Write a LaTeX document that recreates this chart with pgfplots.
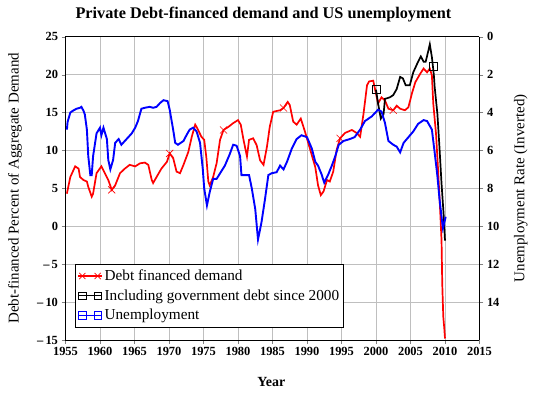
\documentclass[border=0pt]{standalone}
\usepackage{fontspec}
\setmainfont{Liberation Serif}
\usepackage{pgfplots}
\pgfplotsset{compat=1.18}
\begin{document}
\begin{tikzpicture}
\useasboundingbox (-65.5bp,-54bp) rectangle (475.5bp,340bp);
\begin{axis}[
  at={(0,0)}, anchor=south west,
  scale only axis, width=414bp, height=303.3bp,
  xmin=1955, xmax=2015, ymin=-15, ymax=25,
  xtick={1955,1960,...,2015}, ytick={-15,-10,...,25},
  yticklabels={\textendash\,15,\textendash\,10,\textendash\,5,0,5,10,15,20,25},
  axis y line*=left,
  tick pos=left, tick align=outside,
  major tick length=4bp,
  grid=major, major grid style={color=black!25, line width=0.9bp},
  axis line style={line width=1bp},
  /pgf/number format/assume math mode=true,
  /pgf/number format/1000 sep={},
  ticklabel style={font=\fontsize{12.5}{14}\selectfont\bfseries},
  title={Private Debt-financed demand and US unemployment},
  title style={at={(axis description cs:0.478,1.0419)}, anchor=base, font=\fontsize{16.3}{19}\selectfont\bfseries},
  xlabel={Year},
  xlabel style={at={(axis description cs:0.497,-0.1517)}, anchor=base, font=\fontsize{14}{16}\selectfont\bfseries},
  ylabel={Debt-financed Percent of Aggregate Demand},
  ylabel style={at={(axis description cs:-0.122,0.5)}, anchor=center, font=\fontsize{15}{17}\selectfont},
  legend style={at={(axis description cs:0.023,0.2506)}, anchor=north west,
    font=\fontsize{15.3}{17}\selectfont\rmfamily, draw=black, line width=0.8bp,
    inner xsep=2bp, inner ysep=3.5bp, row sep=3.6bp, cells={anchor=west},
    /tikz/every even column/.append style={column sep=5bp}},
  legend image code/.code={
    \draw[#1, mark=none, line width=1.2bp] (0bp,0bp) -- (24bp,0bp);
    \draw[#1, only marks] plot coordinates {(4.3bp,0bp) (19.7bp,0bp)};},
]
\addlegendimage{red, mark=x, mark size=4.3bp, mark options={line width=0.7bp}}
\addlegendentry{Debt financed demand}
\addlegendimage{black, mark=square, mark size=3.6bp, mark options={line width=0.8bp}}
\addlegendentry{Including government debt since 2000}
\addlegendimage{blue, mark=square, mark size=3.6bp, mark options={line width=0.8bp}}
\addlegendentry{Unemployment}

\addplot[red, line width=1.7bp, forget plot] coordinates {
(1955.2,4.3) (1955.7,6.5) (1956.4,7.9) (1956.9,7.6) (1957.1,6.5) (1957.6,6.1) (1958.1,5.9) (1958.3,5.2) (1958.8,3.9) (1959.0,4.3) (1959.5,7.0) (1960.2,7.9) (1960.7,7.0) (1961.2,6.1) (1961.7,4.8) (1962.2,5.4) (1962.9,7.0) (1963.6,7.6) (1964.3,8.1) (1965.1,7.9) (1965.8,8.3) (1966.5,8.4) (1967.0,8.1) (1967.5,6.1) (1967.7,5.7) (1968.2,6.5) (1968.9,7.6) (1969.7,8.5) (1970.1,9.6) (1970.6,9.0) (1971.1,7.2) (1971.6,7.0) (1972.1,8.1) (1972.8,9.8) (1973.3,11.8) (1973.8,13.4) (1974.0,13.1) (1974.7,11.8) (1975.1,11.4) (1975.4,9.2) (1975.7,5.9) (1975.9,5.4) (1976.4,6.5) (1976.9,8.3) (1977.4,11.4) (1977.9,12.7) (1978.6,13.1) (1979.3,13.6) (1980.0,14.0) (1980.4,13.4) (1980.8,11.4) (1981.3,9.2) (1981.6,11.4) (1982.2,11.6) (1982.7,10.7) (1983.2,8.7) (1983.7,8.1) (1984.2,10.5) (1984.6,13.1) (1985.1,15.1) (1986.1,15.3) (1986.6,15.6) (1987.2,16.4) (1987.5,16.0) (1988.0,13.8) (1988.5,13.4) (1989.1,14.2) (1989.7,12.5) (1990.4,10.3) (1991.2,7.8) (1991.6,5.4) (1992.0,4.1) (1992.4,4.6) (1992.9,6.1) (1993.3,5.9) (1993.8,7.2) (1994.3,10.1) (1994.8,11.6) (1995.5,12.3) (1996.5,12.7) (1997.2,12.3) (1997.7,11.8) (1998.2,14.9) (1998.7,18.6) (1999.0,19.1) (1999.6,19.2) (1999.9,17.9) (2000.3,16.2) (2000.8,17.0) (2001.3,16.6) (2001.8,15.5) (2002.5,15.3) (2003.0,15.9) (2003.5,15.5) (2004.2,15.3) (2004.7,15.7) (2005.2,17.5) (2005.7,19.0) (2006.4,20.1) (2006.9,20.8) (2007.4,20.3) (2007.8,20.8) (2008.1,19.9) (2008.3,16.2) (2008.7,12.2) (2009.0,7.4) (2009.3,2.1) (2009.5,-1.9) (2009.6,-7.5) (2009.75,-11.9) (2009.9,-13.5) (2010.0,-14.8)
};
\addplot[red, only marks, mark=x, mark size=5bp, mark options={line width=0.6bp}, forget plot] coordinates {
(1961.7,4.8) (1970.1,9.6) (1977.9,12.7) (1986.6,15.6) (1994.8,11.6) (2002.5,15.3)
};
\addplot[black, line width=1.7bp, forget plot] coordinates {
(2000.0,18.0) (2000.3,16.2) (2000.7,14.2) (2001.1,14.8) (2001.3,16.8) (2002.0,17.0) (2002.5,17.3) (2003.0,18.1) (2003.5,19.7) (2003.9,19.5) (2004.3,18.6) (2004.9,18.6) (2005.4,20.3) (2006.1,21.7) (2006.5,22.4) (2006.9,21.7) (2007.2,21.7) (2007.6,23.2) (2007.8,24.0) (2008.1,22.3) (2008.25,21.1) (2008.4,19.8) (2008.5,18.4) (2008.9,14.8) (2009.2,10.4) (2009.5,5.6) (2009.8,1.6) (2010.0,-1.9)
};
\addplot[black, only marks, mark=square, mark size=4bp, mark options={line width=0.7bp}, forget plot] coordinates {
(2000.0,18.0) (2008.25,21.1)
};
\end{axis}
\begin{axis}[
  at={(0,0)}, anchor=south west,
  scale only axis, width=414bp, height=303.3bp,
  xmin=1955, xmax=2015, ymin=0, ymax=16, y dir=reverse,
  axis x line=none, axis y line*=right,
  ytick={0,2,...,14},
  tick align=outside, major tick length=4bp,
  axis line style={line width=1bp},
  /pgf/number format/assume math mode=true,
  ticklabel style={font=\fontsize{12.5}{14}\selectfont\bfseries},
  ylabel={Unemployment Rate (Inverted)},
  ylabel style={at={(axis description cs:1.100,0.5)}, anchor=center, font=\fontsize{15}{17}\selectfont},
]
\addplot[blue, line width=1.9bp] coordinates {
(1955.2,4.9) (1955.3,4.5) (1955.7,4.0) (1956.1,3.9) (1956.6,3.8) (1957.1,3.75) (1957.3,3.7) (1957.6,3.9) (1957.8,4.1) (1958.1,4.9) (1958.3,6.3) (1958.6,7.3) (1958.8,7.3) (1959.0,6.3) (1959.5,5.1) (1960.0,4.8) (1960.2,5.2) (1960.5,4.8) (1961.0,5.4) (1961.2,6.5) (1961.5,7.0) (1961.9,6.5) (1962.2,5.6) (1962.7,5.4) (1963.1,5.7) (1963.6,5.5) (1964.6,5.1) (1965.1,4.8) (1965.5,4.45) (1966.0,3.8) (1966.5,3.75) (1967.2,3.7) (1967.7,3.75) (1968.2,3.7) (1968.7,3.5) (1969.2,3.35) (1969.8,3.4) (1970.1,3.85) (1970.6,4.9) (1970.9,5.6) (1971.3,5.7) (1972.1,5.5) (1972.6,5.15) (1973.0,4.9) (1973.5,4.8) (1974.0,5.0) (1974.5,5.6) (1974.9,7.0) (1975.1,8.0) (1975.5,8.9) (1975.9,8.2) (1976.4,7.5) (1976.9,7.5) (1978.1,6.8) (1978.8,6.2) (1979.3,5.7) (1979.8,5.75) (1980.3,6.3) (1980.5,7.3) (1981.0,7.3) (1981.6,7.3) (1982.0,8.0) (1982.5,9.1) (1982.9,10.7) (1983.4,9.8) (1983.9,8.6) (1984.4,7.3) (1984.9,7.2) (1985.6,7.15) (1986.1,6.8) (1986.6,7.0) (1987.1,6.6) (1987.8,5.9) (1988.5,5.4) (1989.2,5.2) (1990.0,5.3) (1990.7,5.9) (1991.2,6.6) (1991.6,6.8) (1992.1,7.25) (1992.5,7.7) (1993.1,7.25) (1993.6,6.8) (1994.1,6.3) (1994.6,5.7) (1995.3,5.5) (1996.2,5.4) (1996.9,5.3) (1997.7,4.9) (1998.4,4.45) (1999.4,4.2) (2000.3,3.85) (2000.8,3.95) (2001.3,4.55) (2001.8,5.5) (2002.5,5.7) (2003.0,5.8) (2003.5,6.1) (2004.0,5.6) (2004.7,5.3) (2005.4,5.0) (2006.1,4.6) (2006.9,4.4) (2007.4,4.45) (2008.1,4.9) (2008.5,6.1) (2008.9,7.35) (2009.2,8.55) (2009.5,9.5) (2009.7,10.1) (2010.1,9.5)
};
\end{axis}
\end{tikzpicture}
\end{document}
